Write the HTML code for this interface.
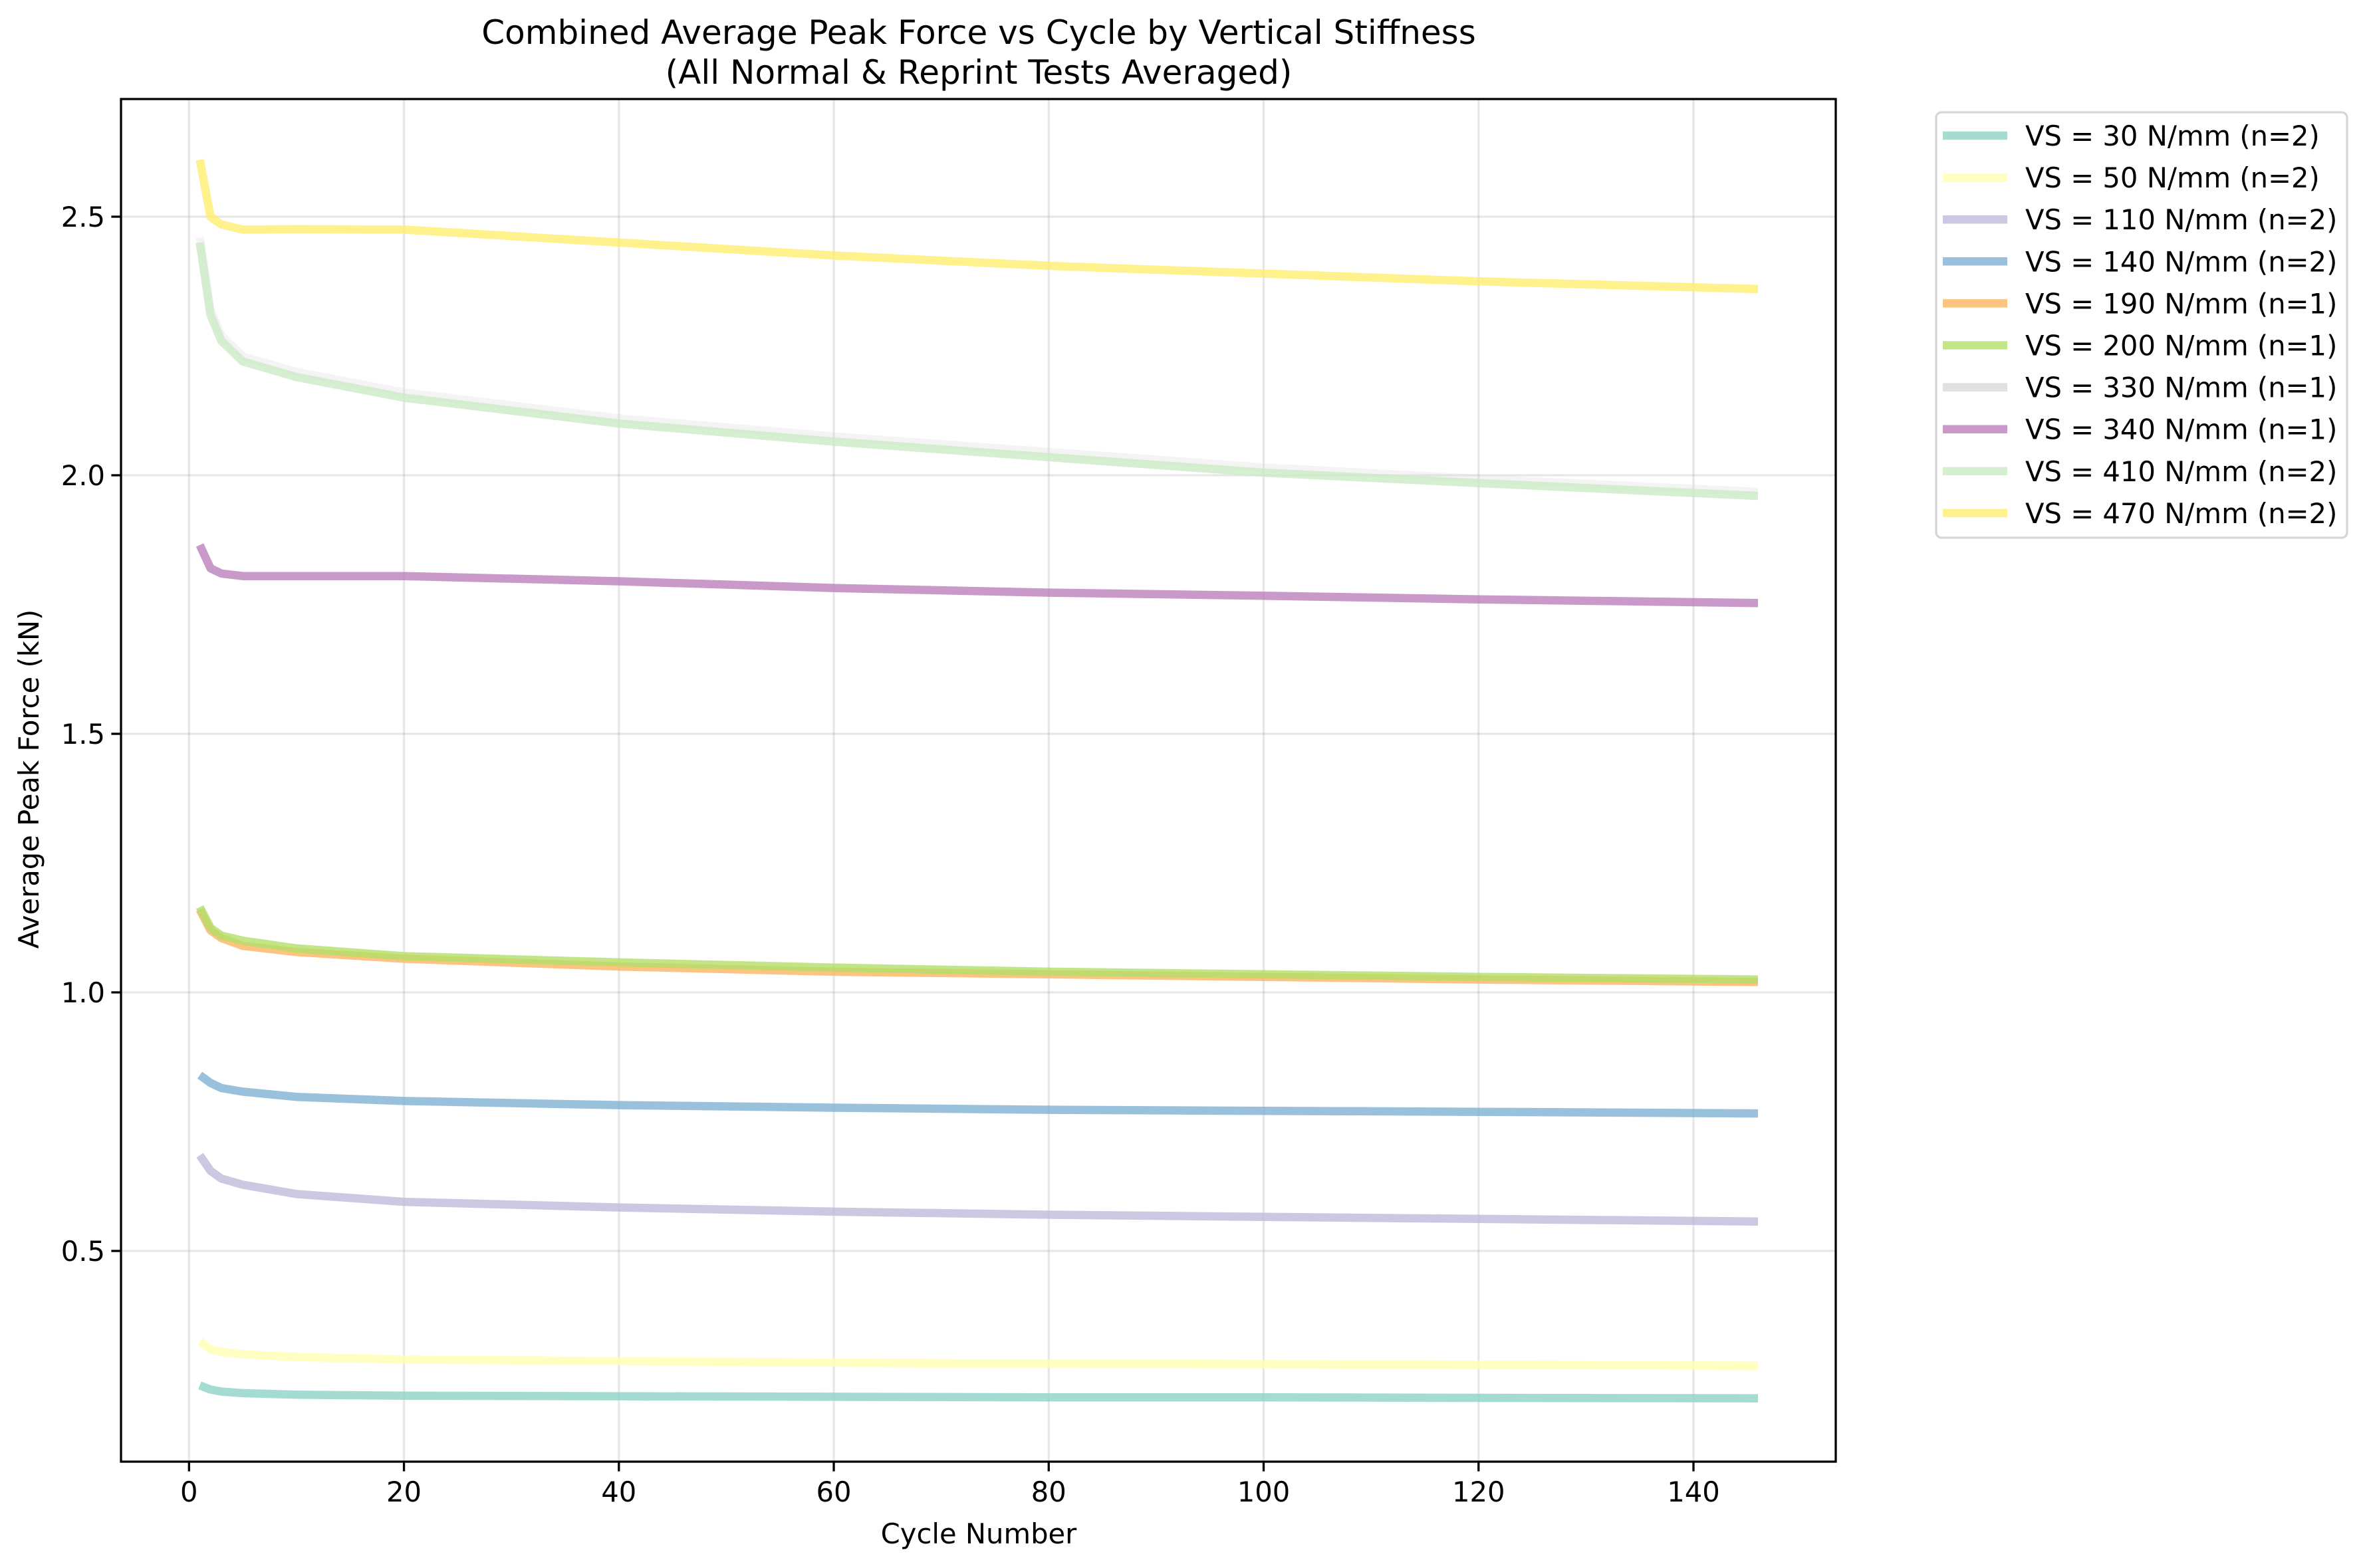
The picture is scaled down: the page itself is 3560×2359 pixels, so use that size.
<!DOCTYPE html>
<html><head><meta charset="utf-8"><style>
html,body{margin:0;padding:0;background:#fff}
svg{display:block;font-family:"DejaVu Sans","Liberation Sans",sans-serif}
</style></head><body>
<svg id="chart" width="3560" height="2359" viewBox="0 0 3560 2359" xmlns="http://www.w3.org/2000/svg">
<rect width="3560" height="2359" fill="#fff"/>
<g id="grid"></g>
<g id="series"></g>
<rect x="182" y="149" width="2579" height="2050" fill="none" stroke="#000" stroke-width="3.3"/>
<g id="ticks" font-size="41.7" fill="#000"></g>
<text x="1472" y="66" font-size="50" text-anchor="middle">Combined Average Peak Force vs Cycle by Vertical Stiffness</text>
<text x="1472" y="126" font-size="50" text-anchor="middle">(All Normal &amp; Reprint Tests Averaged)</text>
<text x="1472" y="2322" font-size="41.7" text-anchor="middle">Cycle Number</text>
<text x="58" y="1172" font-size="41.7" text-anchor="middle" transform="rotate(-90 58 1172)">Average Peak Force (kN)</text>
<g id="legend">
<rect x="2912" y="169" width="618" height="640" rx="8" fill="#fff" stroke="#d6d6d6" stroke-width="3.3"/>
</g>
</svg>
<script>
const cycles = [1,2,3,5,10,20,40,60,80,100,120,146];
const labels = ["VS = 30 N/mm (n=2)","VS = 50 N/mm (n=2)","VS = 110 N/mm (n=2)","VS = 140 N/mm (n=2)","VS = 190 N/mm (n=1)","VS = 200 N/mm (n=1)","VS = 330 N/mm (n=1)","VS = 340 N/mm (n=1)","VS = 410 N/mm (n=2)","VS = 470 N/mm (n=2)"];
const vs30  = [0.240,0.232,0.228,0.225,0.222,0.220,0.219,0.218,0.217,0.217,0.216,0.215];
const vs50  = [0.325,0.310,0.305,0.300,0.295,0.290,0.287,0.284,0.282,0.281,0.280,0.278];
const vs110 = [0.685,0.655,0.640,0.628,0.610,0.595,0.584,0.576,0.570,0.566,0.562,0.557];
const vs140 = [0.840,0.825,0.815,0.808,0.798,0.790,0.782,0.777,0.773,0.771,0.769,0.766];
const vs190 = [1.160,1.120,1.105,1.090,1.078,1.065,1.050,1.040,1.035,1.030,1.025,1.020];
const vs200 = [1.165,1.125,1.110,1.100,1.085,1.070,1.058,1.048,1.040,1.035,1.030,1.025];
const vs330 = [2.460,2.320,2.270,2.230,2.200,2.160,2.110,2.075,2.045,2.015,1.993,1.968];
const vs340 = [1.865,1.820,1.810,1.805,1.805,1.805,1.795,1.782,1.773,1.767,1.760,1.753];
const vs410 = [2.450,2.310,2.260,2.220,2.190,2.150,2.100,2.065,2.035,2.005,1.985,1.960];
const vs470 = [2.610,2.500,2.485,2.475,2.476,2.475,2.450,2.425,2.405,2.390,2.375,2.360];
const xTicks = [0,20,40,60,80,100,120,140];
const yTicks = [0.5,1.0,1.5,2.0,2.5];
const allSeries = [vs30,vs50,vs110,vs140,vs190,vs200,vs330,vs340,vs410,vs470];
const colors = ["#8dd3c7","#ffffb3","#bebada","#80b1d3","#fdb462","#b3de69","#d9d9d9","#bc80bd","#ccebc5","#ffed6f"];
const names = ["vs-30","vs-50","vs-110","vs-140","vs-190","vs-200","vs-330","vs-340","vs-410","vs-470"];
const NS="http://www.w3.org/2000/svg";
const X0=182,X1=2761,Y0=149,Y1=2199;
function xs(v){return 284.3+(v-0)*(2547-284.3)/140;}
function ys(v){return 1882-(v-0.5)*778;}
function mk(tag,attrs,parent){const e=document.createElementNS(NS,tag);for(const k in attrs)e.setAttribute(k,attrs[k]);parent.appendChild(e);return e;}
const grid=document.getElementById('grid'),ticks=document.getElementById('ticks');
xTicks.forEach(t=>{
  const x=xs(t);
  const g=mk('line',{x1:x,x2:x,y1:Y0,y2:Y1,stroke:'#b0b0b0','stroke-opacity':0.3,'stroke-width':3.3},grid);
  
  
  const tk=mk('line',{x1:x,x2:x,y1:Y1,y2:Y1+14.6,stroke:'#000','stroke-width':3.3},ticks);
  
  
  const lb=mk('text',{x:x,y:Y1+60,'text-anchor':'middle'},ticks);lb.textContent=String(t);
  
  
});
yTicks.forEach(t=>{
  const y=ys(t);
  const g=mk('line',{x1:X0,x2:X1,y1:y,y2:y,stroke:'#b0b0b0','stroke-opacity':0.3,'stroke-width':3.3},grid);
  
  
  const tk=mk('line',{x1:X0-14.6,x2:X0,y1:y,y2:y,stroke:'#000','stroke-width':3.3},ticks);
  
  
  const lb=mk('text',{x:X0-24,y:y+15,'text-anchor':'end'},ticks);lb.textContent=t.toFixed(1);
  
  
});
const sg=document.getElementById('series');
allSeries.forEach((s,i)=>{
  const d=s.map((v,j)=>(j?'L':'M')+xs(cycles[j]).toFixed(1)+','+ys(v).toFixed(1)).join(' ');
  const p=mk('path',{d:d,fill:'none',stroke:colors[i],'stroke-width':12.5,'stroke-opacity':i===6?0.3:0.8,'stroke-linejoin':'round'},sg);
  
  
});
const lg=document.getElementById('legend');
labels.forEach((l,i)=>{
  const y=204+i*63.1;
  const ln=mk('line',{x1:2922,x2:3019,y1:y,y2:y,stroke:colors[i],'stroke-width':12.5,'stroke-opacity':0.8},lg);
  
  
  const t=mk('text',{x:3046,y:y+15,'font-size':41.7},lg);t.textContent=l;
  
  
});
</script>
</body></html>
